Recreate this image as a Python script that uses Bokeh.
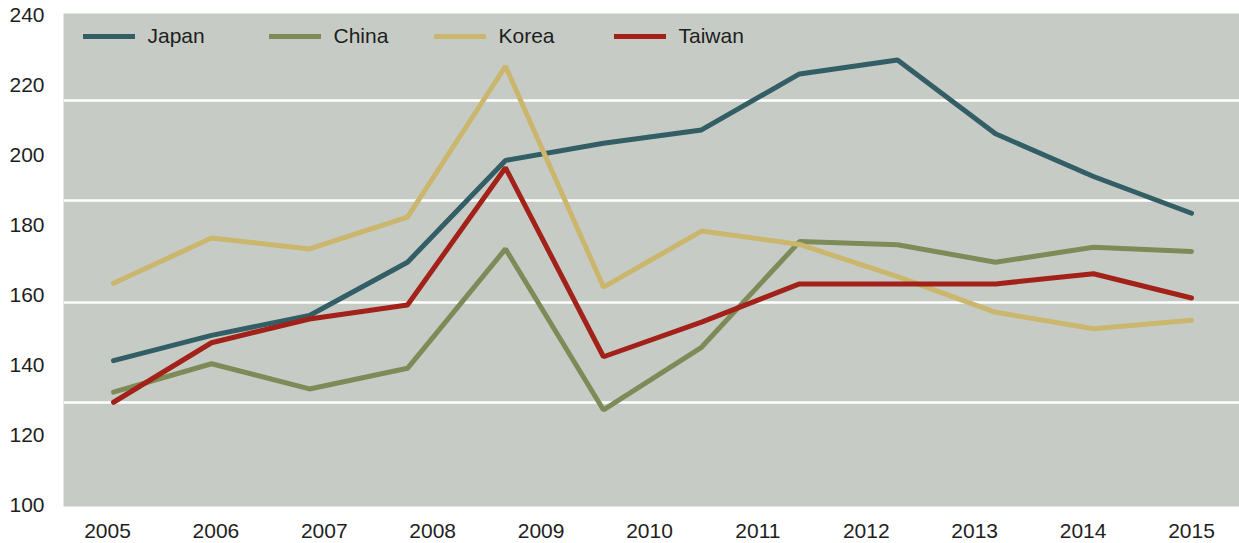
from bokeh.plotting import figure
from bokeh.models import Range1d, LinearAxis, FixedTicker, Legend, LegendItem
from bokeh.embed import file_html
from bokeh.resources import INLINE

# ---- data ----
periods = list(range(12))  # twelve observations plotted along the x axis
year_labels = [2005, 2006, 2007, 2008, 2009, 2010, 2011, 2012, 2013, 2014, 2015]
japan = [141.4, 148.6, 154.3, 169.5, 198.6, 203.5, 207.3, 223.3, 227.3, 206.2, 194.0, 183.5]
china = [132.4, 140.5, 133.3, 139.2, 173.3, 127.3, 145.2, 175.4, 174.5, 169.5, 173.8, 172.6]
korea = [163.5, 176.4, 173.3, 182.4, 225.5, 162.4, 178.4, 174.6, 165.4, 155.2, 150.5, 152.9]
taiwan = [129.5, 146.5, 153.3, 157.3, 196.5, 142.5, 152.4, 163.3, 163.3, 163.3, 166.2, 159.3]
y_ticks = [100, 120, 140, 160, 180, 200, 220, 240]
grid_values = [129.5, 158.1, 187.1, 215.7]

series = [
    ("Japan", japan, "#335e66"),
    ("China", china, "#7e8b58"),
    ("Korea", korea, "#cab66d"),
    ("Taiwan", taiwan, "#a2221a"),
]

# ---- layout ----
W, H = 1239, 543
BL, BR, BT, BB = 63, 0, 13, 37
frame_w = W - BL - BR
frame_h = H - BT - BB
FONT = "Liberation Sans"
FS = "21px"

px_per_period = 98.0
x_start = -(113 - BL) / px_per_period
x_end = x_start + frame_w / px_per_period

px_per_year = 108.4
yr_start = 2005 - (107 - BL) / px_per_year
yr_end = yr_start + frame_w / px_per_year

p = figure(width=W, height=H, output_backend="svg", toolbar_location=None,
           x_range=Range1d(x_start, x_end), y_range=Range1d(99.714, 240.571),
           x_axis_location=None, min_border_left=BL, min_border_right=BR,
           min_border_top=BT, min_border_bottom=BB)
p.extra_x_ranges = {"years": Range1d(yr_start, yr_end)}

p.background_fill_color = "#c6ccc5"
p.border_fill_color = "white"
p.outline_line_color = None

# y axis
ya = p.yaxis[0]
ya.ticker = FixedTicker(ticks=y_ticks)
ya.axis_line_color = None
ya.major_tick_line_color = None
ya.minor_tick_line_color = None
ya.major_label_standoff = 13
ya.major_label_text_font = FONT
ya.major_label_text_font_size = FS
ya.major_label_text_color = "#1e1e1e"

# x axis with year labels
xa = LinearAxis(x_range_name="years", ticker=FixedTicker(ticks=year_labels))
xa.axis_line_color = None
xa.major_tick_line_color = None
xa.minor_tick_line_color = None
xa.major_label_standoff = 11
xa.major_label_text_font = FONT
xa.major_label_text_font_size = FS
xa.major_label_text_color = "#1e1e1e"
p.add_layout(xa, "below")

# grid
p.xgrid.visible = False
p.ygrid.ticker = FixedTicker(ticks=grid_values)
p.ygrid.grid_line_color = "white"
p.ygrid.grid_line_width = 2.5

renderers = []
for name, vals, col in series:
    r = p.line(periods, vals, line_color=col, line_width=5, line_cap="round")
    renderers.append((name, r))

legend_x = [19.5, 205.5, 370.5, 550.5]
legend_center_y = 36
for (name, r), lx in zip(renderers, legend_x):
    lg = Legend(items=[LegendItem(label=name, renderers=[r])],
                location=(lx, (BT + frame_h) - (legend_center_y + 12)),
                orientation="horizontal", padding=0, margin=0,
                border_line_color=None, background_fill_alpha=0,
                glyph_width=52, glyph_height=24, label_height=24,
                label_standoff=13, label_text_font=FONT,
                label_text_font_size=FS, label_text_color="#1e1e1e")
    p.add_layout(lg, "center")

open("out.html", "w").write(file_html(p, INLINE))
